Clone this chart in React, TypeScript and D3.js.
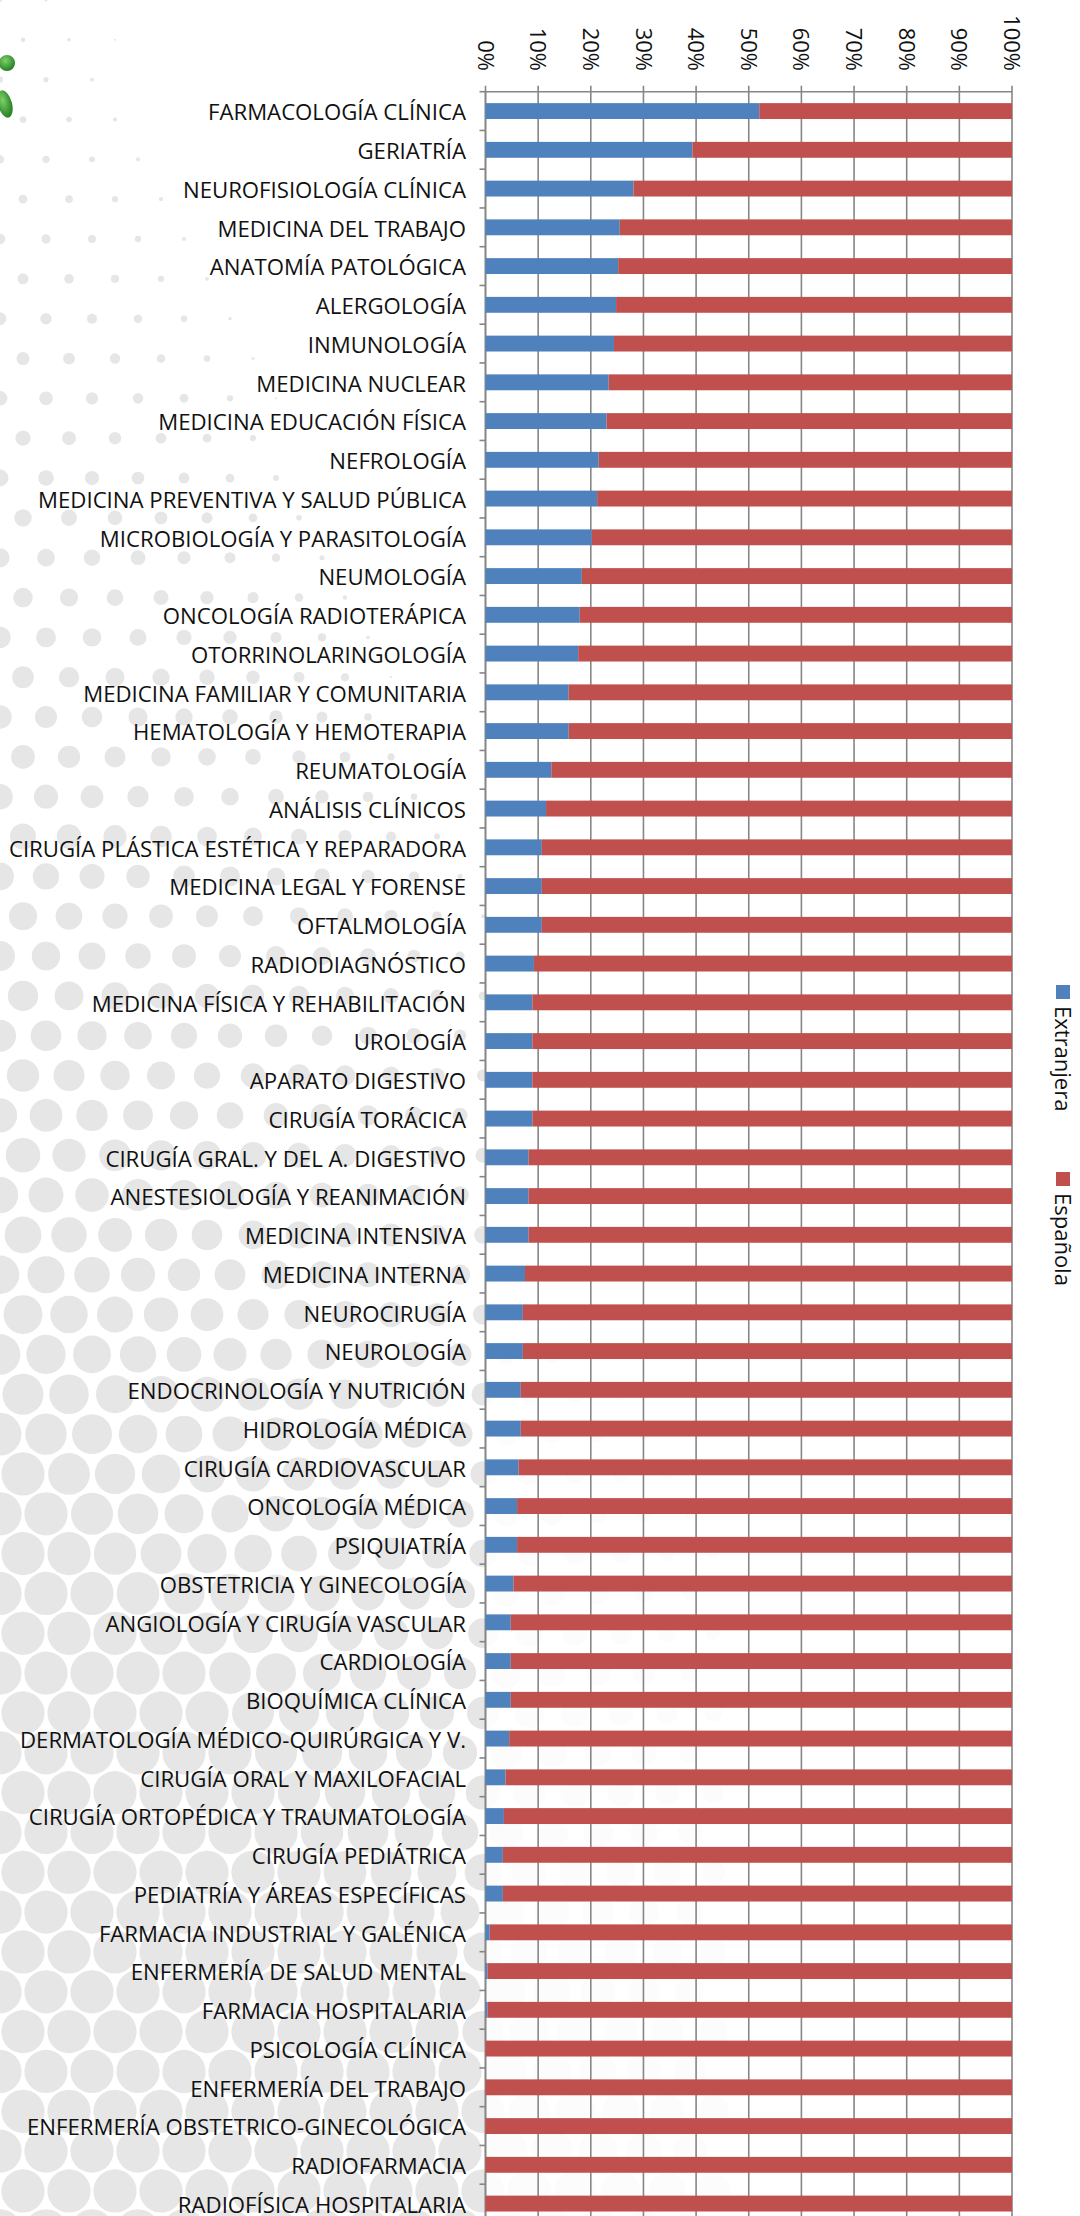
import React from "react";
import * as d3 from "d3";

const categories = [
  "FARMACOLOGÍA CLÍNICA", "GERIATRÍA", "NEUROFISIOLOGÍA CLÍNICA", "MEDICINA DEL TRABAJO",
  "ANATOMÍA PATOLÓGICA", "ALERGOLOGÍA", "INMUNOLOGÍA", "MEDICINA NUCLEAR",
  "MEDICINA EDUCACIÓN FÍSICA", "NEFROLOGÍA", "MEDICINA PREVENTIVA Y SALUD PÚBLICA",
  "MICROBIOLOGÍA Y PARASITOLOGÍA", "NEUMOLOGÍA", "ONCOLOGÍA RADIOTERÁPICA",
  "OTORRINOLARINGOLOGÍA", "MEDICINA FAMILIAR Y COMUNITARIA", "HEMATOLOGÍA Y HEMOTERAPIA",
  "REUMATOLOGÍA", "ANÁLISIS CLÍNICOS", "CIRUGÍA PLÁSTICA ESTÉTICA Y REPARADORA",
  "MEDICINA LEGAL Y FORENSE", "OFTALMOLOGÍA", "RADIODIAGNÓSTICO",
  "MEDICINA FÍSICA Y REHABILITACIÓN", "UROLOGÍA", "APARATO DIGESTIVO", "CIRUGÍA TORÁCICA",
  "CIRUGÍA GRAL. Y DEL A. DIGESTIVO", "ANESTESIOLOGÍA Y REANIMACIÓN", "MEDICINA INTENSIVA",
  "MEDICINA INTERNA", "NEUROCIRUGÍA", "NEUROLOGÍA", "ENDOCRINOLOGÍA Y NUTRICIÓN",
  "HIDROLOGÍA MÉDICA", "CIRUGÍA CARDIOVASCULAR", "ONCOLOGÍA MÉDICA", "PSIQUIATRÍA",
  "OBSTETRICIA Y GINECOLOGÍA", "ANGIOLOGÍA Y CIRUGÍA VASCULAR", "CARDIOLOGÍA",
  "BIOQUÍMICA CLÍNICA", "DERMATOLOGÍA MÉDICO-QUIRÚRGICA Y V.", "CIRUGÍA ORAL Y MAXILOFACIAL",
  "CIRUGÍA ORTOPÉDICA Y TRAUMATOLOGÍA", "CIRUGÍA PEDIÁTRICA", "PEDIATRÍA Y ÁREAS ESPECÍFICAS",
  "FARMACIA INDUSTRIAL Y GALÉNICA", "ENFERMERÍA DE SALUD MENTAL", "FARMACIA HOSPITALARIA",
  "PSICOLOGÍA CLÍNICA", "ENFERMERÍA DEL TRABAJO", "ENFERMERÍA OBSTETRICO-GINECOLÓGICA",
  "RADIOFARMACIA", "RADIOFÍSICA HOSPITALARIA",
];

const extranjera = [
  52.0, 39.3, 28.1, 25.5, 25.2, 24.8, 24.4, 23.4, 23.0, 21.5,
  21.2, 20.2, 18.3, 17.9, 17.6, 15.8, 15.8, 12.5, 11.5, 10.7,
  10.7, 10.7, 9.2, 8.9, 8.9, 8.9, 8.9, 8.2, 8.2, 8.2,
  7.5, 7.1, 7.1, 6.7, 6.7, 6.3, 6.0, 6.0, 5.3, 4.8,
  4.8, 4.8, 4.5, 3.8, 3.5, 3.3, 3.3, 0.8, 0.4, 0.4,
  0, 0, 0, 0, 0,
];

const espanola = [
  48.0, 60.7, 71.9, 74.5, 74.8, 75.2, 75.6, 76.6, 77.0, 78.5,
  78.8, 79.8, 81.7, 82.1, 82.4, 84.2, 84.2, 87.5, 88.5, 89.3,
  89.3, 89.3, 90.8, 91.1, 91.1, 91.1, 91.1, 91.8, 91.8, 91.8,
  92.5, 92.9, 92.9, 93.3, 93.3, 93.7, 94.0, 94.0, 94.7, 95.2,
  95.2, 95.2, 95.5, 96.2, 96.5, 96.7, 96.7, 99.2, 99.6, 99.6,
  100, 100, 100, 100, 100,
];

const seriesNames = ["Extranjera", "Española"];
const seriesColors = ["#4F81BD", "#C0504D"];
const tickValues = [0, 0.1, 0.2, 0.3, 0.4, 0.5, 0.6, 0.7, 0.8, 0.9, 1];

const W = 1080;
const H = 2216;
const FONT = "'Open Sans', 'DejaVu Sans', sans-serif";

export default function App() {
  const left = 485.5;
  const right = 1012;
  const top = 91.7;
  const step = 38.75;
  const bottom = top + step * categories.length;

  const rows = categories.map((c, i) => ({
    cat: c,
    Extranjera: extranjera[i],
    Española: espanola[i],
  }));

  const stacked = d3
    .stack<any>()
    .keys(seriesNames)
    .offset(d3.stackOffsetExpand)(rows);

  const x = d3.scaleLinear().domain([0, 1]).range([left, right]);
  const y = d3
    .scaleBand<string>()
    .domain(categories)
    .range([top, bottom])
    .paddingInner(0.59)
    .paddingOuter(0.295);

  const pct = d3.format(".0%");

  // decorative background halftone (not data)
  const dots: { cx: number; cy: number; r: number }[] = [];
  const sp = 46;
  d3.range(0, H / (sp * 0.866) + 2).forEach((j) => {
    const cy = j * sp * 0.866;
    d3.range(0, 16).forEach((i) => {
      const cx = i * sp + (j % 2 ? sp / 2 : 0);
      const t = cy / H;
      const reach = 120 + t * 900;
      const f = 1 - cx / reach;
      if (f <= 0) return;
      const r = Math.min(sp * 0.47, (2 + t * 30) * Math.sqrt(f));
      if (r < 1) return;
      dots.push({ cx, cy, r });
    });
  });

  const bandEdges = d3.range(0, categories.length + 1).map((k) => top + k * step);

  return (
    <svg
      width={W}
      height={H}
      viewBox={`0 0 ${W} ${H}`}
      style={{ position: "absolute", left: 0, top: 0, background: "#fff" }}
    >
      <defs>
        <radialGradient id="grn" cx="40%" cy="35%" r="70%">
          <stop offset="0%" stopColor="#7fd06a" />
          <stop offset="100%" stopColor="#1f7a1f" />
        </radialGradient>
      </defs>
      <rect x={0} y={0} width={W} height={H} fill="#fff" />
      <g fill="#e6e6e6">
        {dots.map((d, i) => (
          <circle key={i} cx={d.cx} cy={d.cy} r={d.r} />
        ))}
      </g>
      <circle cx={7} cy={63} r={8} fill="url(#grn)" />
      <ellipse cx={5} cy={104} rx={7} ry={14} fill="url(#grn)" transform="rotate(-15 5 104)" />

      {/* plot area */}
      <rect x={left} y={top} width={right - left} height={bottom - top} fill="#fff" fillOpacity={0.85} />

      {/* gridlines and axes */}
      <g stroke="#868686" strokeWidth={1.6}>
        {tickValues.map((t) => (
          <line key={t} x1={x(t)} x2={x(t)} y1={top - 6} y2={bottom} />
        ))}
        <line x1={left} x2={right} y1={top} y2={top} />
        <line x1={left} x2={left} y1={top} y2={bottom} />
        {bandEdges.map((e, k) => (
          <line key={k} x1={left - 6} x2={left} y1={e} y2={e} />
        ))}
      </g>

      {/* bars */}
      {stacked.map((s, si) => (
        <g key={s.key} fill={seriesColors[si]}>
          {s.map((d, i) => (
            <rect
              key={i}
              x={x(d[0])}
              y={y(categories[i])}
              width={Math.max(0, x(d[1]) - x(d[0]))}
              height={y.bandwidth()}
            />
          ))}
        </g>
      ))}

      {/* category labels */}
      <g fontFamily={FONT} fontSize={22.2} fill="#111" textAnchor="end">
        {categories.map((c) => (
          <text key={c} x={466} y={(y(c) as number) + y.bandwidth() / 2} dy="0.42em">
            {c}
          </text>
        ))}
      </g>

      {/* top tick labels, rotated */}
      <g fontFamily={FONT} fontSize={22} fill="#111" textAnchor="end">
        {tickValues.map((t) => (
          <text key={t} transform={`translate(${x(t)},71) rotate(90)`} dy="0.36em">
            {pct(t)}
          </text>
        ))}
      </g>

      {/* legend, rotated */}
      <g transform="translate(1063,985) rotate(90)" fontFamily={FONT} fontSize={22} fill="#111">
        <rect x={0} y={-7} width={14} height={14} fill={seriesColors[0]} />
        <text x={21} y={0} dy="0.36em">{seriesNames[0]}</text>
        <rect x={187} y={-7} width={14} height={14} fill={seriesColors[1]} />
        <text x={208} y={0} dy="0.36em">{seriesNames[1]}</text>
      </g>
    </svg>
  );
}
